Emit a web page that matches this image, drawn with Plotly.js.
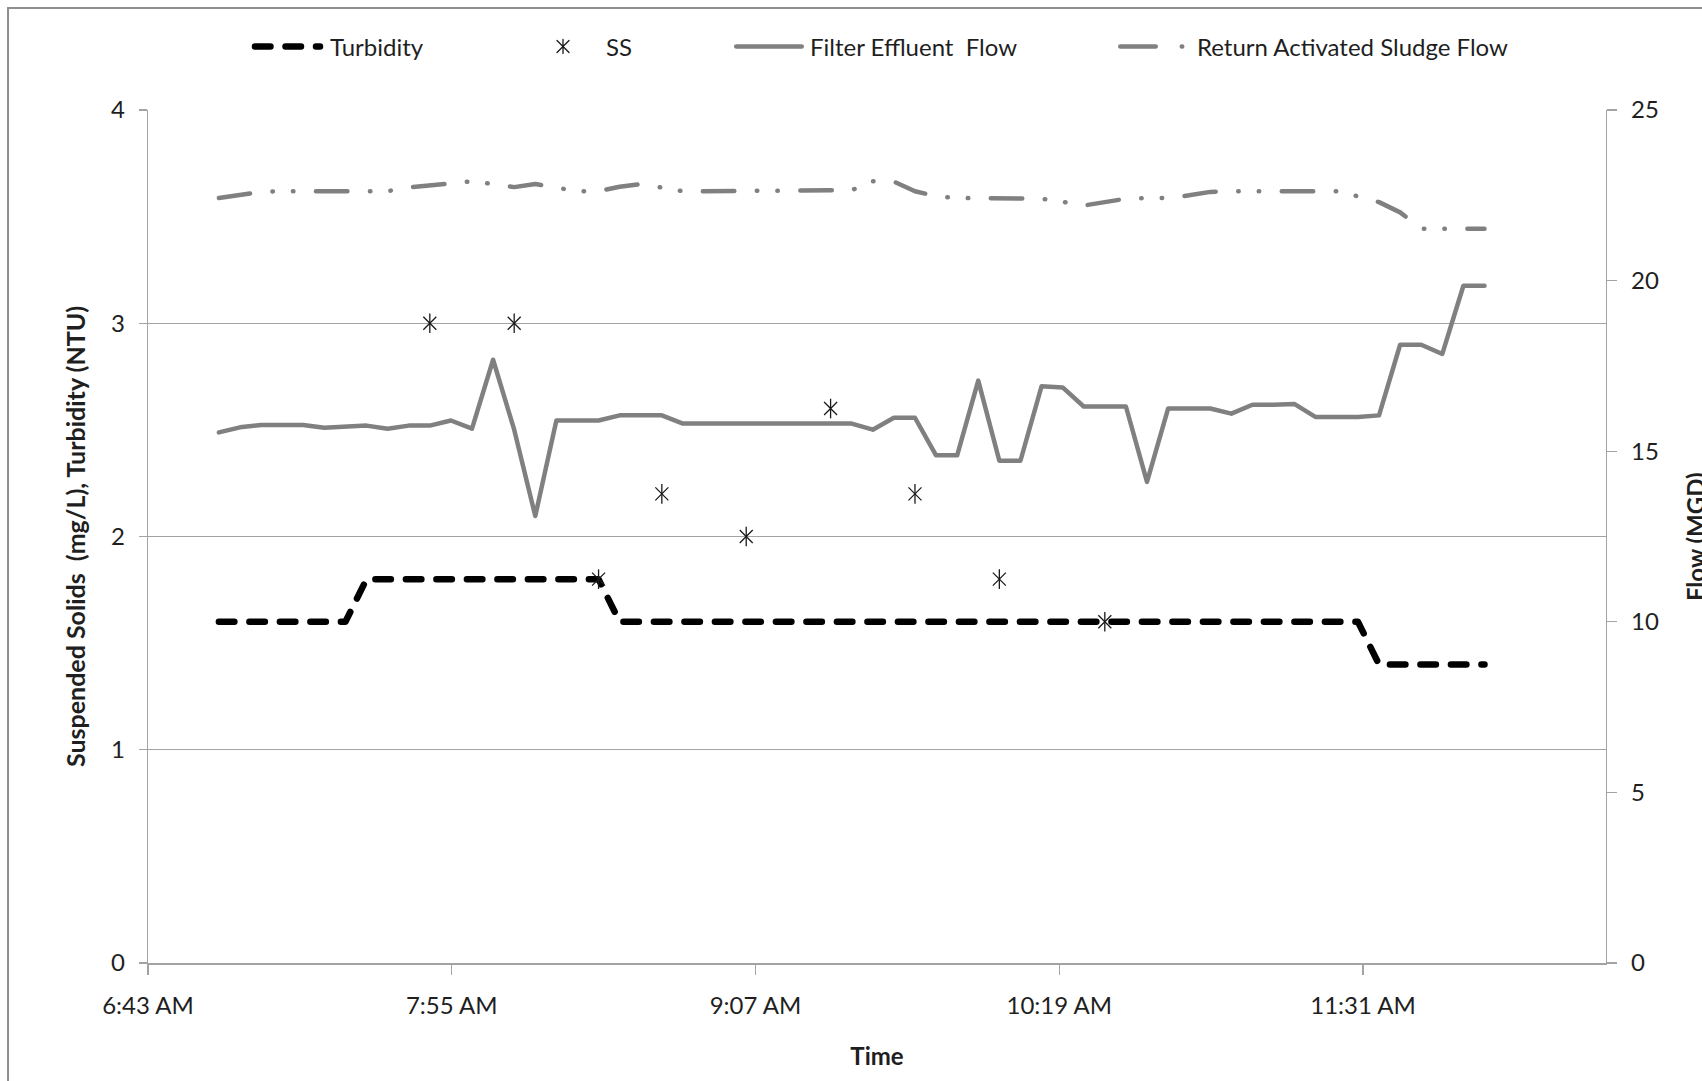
<!DOCTYPE html>
<html>
<head>
<meta charset="utf-8">
<script src="https://cdn.plot.ly/plotly-3.0.1.min.js"></script>
<style>
  html, body { margin: 0; padding: 0; background: #ffffff; }
  #chart { width: 1702px; height: 1081px; }
  /* rounded ends on dashes and dots, like the office chart style */
  .js-line, .shapelayer path { stroke-linecap: round; stroke-linejoin: round; }
</style>
</head>
<body>
<div id="chart"></div>
<script>
// Sampling times (every 5 minutes, 7:00 AM to 12:00 PM)
const times = [
  '07:00','07:05','07:10','07:15','07:20','07:25','07:30','07:35','07:40','07:45',
  '07:50','07:55','08:00','08:05','08:10','08:15','08:20','08:25','08:30','08:35',
  '08:40','08:45','08:50','08:55','09:00','09:05','09:10','09:15','09:20','09:25',
  '09:30','09:35','09:40','09:45','09:50','09:55','10:00','10:05','10:10','10:15',
  '10:20','10:25','10:30','10:35','10:40','10:45','10:50','10:55','11:00','11:05',
  '11:10','11:15','11:20','11:25','11:30','11:35','11:40','11:45','11:50','11:55',
  '12:00'
];

// Turbidity (NTU)
const turbidity = [
  1.6, 1.6, 1.6, 1.6, 1.6, 1.6, 1.6, 1.8, 1.8, 1.8,
  1.8, 1.8, 1.8, 1.8, 1.8, 1.8, 1.8, 1.8, 1.8, 1.6,
  1.6, 1.6, 1.6, 1.6, 1.6, 1.6, 1.6, 1.6, 1.6, 1.6,
  1.6, 1.6, 1.6, 1.6, 1.6, 1.6, 1.6, 1.6, 1.6, 1.6,
  1.6, 1.6, 1.6, 1.6, 1.6, 1.6, 1.6, 1.6, 1.6, 1.6,
  1.6, 1.6, 1.6, 1.6, 1.6, 1.4, 1.4, 1.4, 1.4, 1.4,
  1.4
];

// Filter effluent flow (MGD)
const filterEffluentFlow = [
  15.55, 15.70, 15.77, 15.77, 15.77, 15.69, 15.72, 15.75, 15.66, 15.75,
  15.75, 15.90, 15.66, 17.68, 15.63, 13.10, 15.90, 15.90, 15.90, 16.05,
  16.05, 16.05, 15.81, 15.81, 15.81, 15.81, 15.81, 15.81, 15.81, 15.81,
  15.81, 15.63, 15.98, 15.98, 14.88, 14.88, 17.07, 14.72, 14.72, 16.90,
  16.87, 16.31, 16.31, 16.31, 14.10, 16.25, 16.25, 16.25, 16.10, 16.36,
  16.36, 16.38, 16.00, 16.00, 16.00, 16.05, 18.12, 18.12, 17.85, 19.85,
  19.85
];

// Return activated sludge flow (MGD)
const rasFlow = [
  22.42, 22.50, 22.60, 22.62, 22.62, 22.62, 22.62, 22.62, 22.62, 22.73,
  22.79, 22.82, 22.91, 22.83, 22.74, 22.83, 22.74, 22.62, 22.62, 22.75,
  22.83, 22.74, 22.62, 22.62, 22.62, 22.62, 22.62, 22.62, 22.62, 22.62,
  22.65, 22.91, 22.90, 22.62, 22.47, 22.42, 22.42, 22.42, 22.42, 22.40,
  22.31, 22.20, 22.30, 22.40, 22.42, 22.42, 22.50, 22.60, 22.62, 22.62,
  22.62, 22.62, 22.62, 22.62, 22.47, 22.30, 22.00, 21.52, 21.52, 21.52,
  21.52
];

// Suspended solids grab samples (mg/L)
const ssTimes = ['07:50','08:10','08:30','08:45','09:05','09:25','09:45','10:05','10:30'];
const ssValues = [3.0, 3.0, 1.8, 2.2, 2.0, 2.6, 2.2, 1.8, 1.6];

// Series names
const seriesNames = ['Turbidity', 'SS', 'Filter Effluent\u00a0 Flow', 'Return Activated Sludge Flow'];

const day = '2000-01-01 ';
const toDate = t => day + t;
const x = times.map(toDate);
const xSS = ssTimes.map(toDate);

const FONT = 'Lato, "Open Sans", sans-serif';
const TXT = '#1f1f1f';
const AXIS = '#a3a3a3';
const FLOW_GREY = '#808080';
const STAR = '#1a1a1a';

const turbDash = '15.5px,15px';
const rasDash = '31.5px,22.5px,0.5px,20px,0.5px,22.5px';

const traces = [
  {
    x: x, y: turbidity, name: seriesNames[0], type: 'scatter', mode: 'lines',
    line: { color: '#000000', width: 6.5, dash: turbDash }, yaxis: 'y'
  },
  // SS star marker = an "x" plus a vertical stroke, drawn as two marker layers
  {
    x: xSS, y: ssValues, name: seriesNames[1], type: 'scatter', mode: 'markers',
    marker: { symbol: 'x-thin-open', size: 13, color: STAR, line: { color: STAR, width: 1.3 } },
    yaxis: 'y'
  },
  {
    x: xSS, y: ssValues, name: seriesNames[1], type: 'scatter', mode: 'markers',
    marker: { symbol: 'line-ns-open', size: 14, color: STAR, line: { color: STAR, width: 1.3 } },
    yaxis: 'y'
  },
  {
    x: x, y: filterEffluentFlow, name: seriesNames[2], type: 'scatter', mode: 'lines',
    line: { color: FLOW_GREY, width: 4.5 }, yaxis: 'y2'
  },
  {
    x: x, y: rasFlow, name: seriesNames[3], type: 'scatter', mode: 'lines',
    line: { color: FLOW_GREY, width: 4.5, dash: rasDash }, yaxis: 'y2'
  }
];

// Hand-built legend row above the plot area (paper coordinates)
const LY = 1.0745;
const shapes = [
  // chart frame (top and left edges)
  { type: 'line', xref: 'paper', yref: 'paper', x0: -0.0960, y0: 1.1196, x1: 1.2, y1: 1.1196,
    line: { color: '#8e8e8e', width: 2 } },
  { type: 'line', xref: 'paper', yref: 'paper', x0: -0.0960, y0: 1.1196, x1: -0.0960, y1: -0.3,
    line: { color: '#8e8e8e', width: 2 } },
  // legend samples
  { type: 'line', xref: 'paper', yref: 'paper', x0: 0.07339, y0: LY, x1: 0.11797, y1: LY,
    line: { color: '#000000', width: 6.5, dash: turbDash } },
  { type: 'path', xref: 'paper', yref: 'paper', xsizemode: 'pixel', ysizemode: 'pixel',
    xanchor: 0.28464, yanchor: LY, path: 'M-6,-6L6,6M-6,6L6,-6M0,-7L0,7',
    line: { color: STAR, width: 1.3 } },
  { type: 'line', xref: 'paper', yref: 'paper', x0: 0.40346, y0: LY, x1: 0.44839, y1: LY,
    line: { color: FLOW_GREY, width: 4.5 } },
  { type: 'line', xref: 'paper', yref: 'paper', x0: 0.66684, y0: LY, x1: 0.70953, y1: LY,
    line: { color: FLOW_GREY, width: 4.5, dash: '35.5px,26px,0.5px,40px' } }
];

const legendText = (text, xp) => ({
  text: text, xref: 'paper', yref: 'paper', x: xp, y: LY,
  xanchor: 'left', yanchor: 'middle', showarrow: false,
  font: { family: FONT, size: 24, color: TXT }
});

const tickFont = { family: FONT, size: 24, color: TXT };
const titleFont = { family: FONT, size: 24, color: TXT };

const annotations = [
  legendText(seriesNames[0], 0.1236),
  legendText(seriesNames[1], 0.3128),
  legendText(seriesNames[2], 0.4527),
  legendText(seriesNames[3], 0.7180),
  // right-hand axis title, sitting at the far edge of the chart
  {
    text: '<b>Flow (MGD)</b>', xref: 'paper', yref: 'paper', x: 1.0614, y: 0.5,
    xanchor: 'center', yanchor: 'middle', textangle: -90, showarrow: false,
    font: titleFont
  }
];

const layout = {
  width: 1702,
  height: 1081,
  margin: { l: 148, r: 96, t: 110, b: 118, pad: 0 },
  paper_bgcolor: '#ffffff',
  plot_bgcolor: '#ffffff',
  showlegend: false,
  hovermode: false,
  font: { family: FONT, color: TXT },
  xaxis: {
    type: 'date',
    range: [day + '06:43:12', day + '12:28:48'],
    tick0: day + '06:43:12',
    dtick: 72 * 60 * 1000,
    tickformat: '%-I:%M %p',
    ticks: 'outside', ticklen: 10, tickwidth: 1.3, tickcolor: AXIS,
    showline: true, linecolor: AXIS, linewidth: 2,
    showgrid: false, zeroline: false,
    tickfont: tickFont,
    ticklabelstandoff: 10,
    title: { text: '<b>Time</b>', font: titleFont, standoff: 30 }
  },
  yaxis: {
    range: [0, 4], tick0: 0, dtick: 1,
    ticks: 'outside', ticklen: 8, tickwidth: 1.3, tickcolor: AXIS,
    showline: true, linecolor: AXIS, linewidth: 1.3,
    showgrid: true, gridcolor: AXIS, gridwidth: 1.3,
    zeroline: false,
    tickfont: tickFont,
    ticklabelstandoff: 9,
    title: { text: '<b>Suspended Solids\u00a0 (mg/L), Turbidity (NTU)</b>', font: { family: FONT, size: 25, color: TXT }, standoff: 18 }
  },
  yaxis2: {
    overlaying: 'y', side: 'right',
    range: [0, 25], tick0: 0, dtick: 5,
    ticks: 'outside', ticklen: 10, tickwidth: 1.3, tickcolor: AXIS,
    showline: true, linecolor: AXIS, linewidth: 1.3,
    showgrid: false, zeroline: false,
    tickfont: tickFont,
    ticklabelstandoff: 9
  },
  shapes: shapes,
  annotations: annotations
};

Plotly.newPlot('chart', traces, layout, { displayModeBar: false, staticPlot: true });
</script>
</body>
</html>
